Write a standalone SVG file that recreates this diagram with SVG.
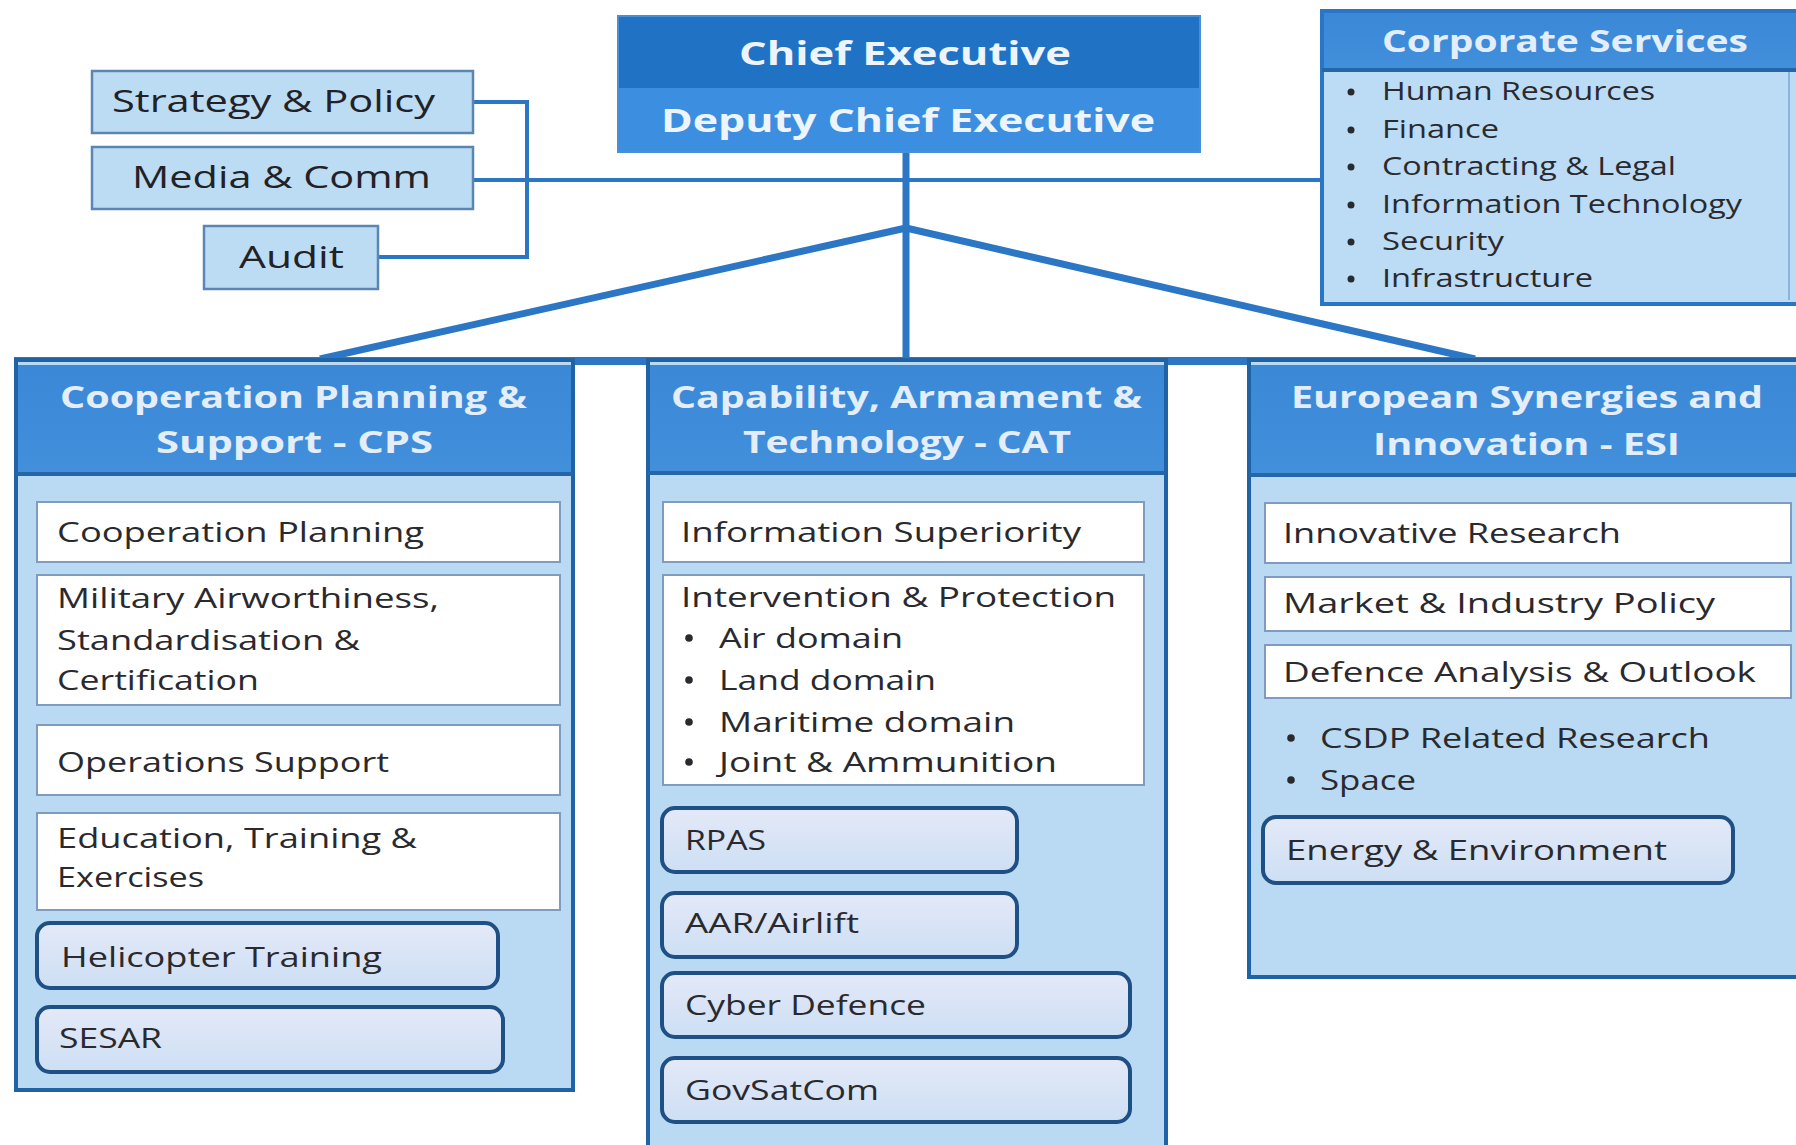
<svg xmlns="http://www.w3.org/2000/svg" width="1796" height="1145" viewBox="0 0 1796 1145">
<defs>
<linearGradient id="rg" x1="0" y1="0" x2="0" y2="1">
<stop offset="0" stop-color="#e4e9f8"/>
<stop offset="1" stop-color="#cddff4"/>
</linearGradient>
<linearGradient id="hg" x1="0" y1="0" x2="0" y2="1">
<stop offset="0" stop-color="#3a88d6"/>
<stop offset="1" stop-color="#4290dc"/>
</linearGradient>
</defs>
<style>
text{font-family:"Open Sans","Liberation Sans",sans-serif;}
.t{font-size:28px;fill:#2a2a2e;}
.tl{font-size:25px;fill:#2a2a2e;}
.ts{font-size:31px;fill:#222226;}
.h{font-size:31px;font-weight:bold;fill:#e4eefa;}
.hc{font-size:33px;font-weight:bold;fill:#eef4fc;}
.small{fill:#bcdcf4;stroke:#5b86b1;stroke-width:2.5;}
.col{fill:#badaf3;stroke:#1f62a6;stroke-width:4;}
.hdr{fill:url(#hg);}
.div{stroke:#2566a8;stroke-width:4;}
.item{fill:#ffffff;stroke:#7f9cc0;stroke-width:2;}
.rbox{fill:url(#rg);stroke:#1e4f85;stroke-width:4;}
.ln{stroke:#2b76c5;fill:none;}
.bul{fill:#2a2a2e;}
</style>

<g id="connectors">
<line class="ln" x1="906" y1="152" x2="906" y2="360" stroke-width="7"/>
<line class="ln" x1="473" y1="180" x2="1322" y2="180" stroke-width="4"/>
<polyline class="ln" points="473,102 527,102 527,257 378,257" stroke-width="4"/>
<polyline class="ln" points="320,359 906,228 1475,359" stroke-width="7" stroke-linejoin="round"/>
<line class="ln" x1="14" y1="361" x2="1796" y2="361" stroke-width="8"/>
</g>

<g id="strategy-policy">
<rect class="small" x="92" y="71" width="381" height="62"/>
<text class="ts" x="112" y="112" textLength="323" lengthAdjust="spacingAndGlyphs">Strategy &amp; Policy</text>
</g>
<g id="media-comm">
<rect class="small" x="92" y="147" width="381" height="62"/>
<text class="ts" x="132" y="188" textLength="299" lengthAdjust="spacingAndGlyphs">Media &amp; Comm</text>
</g>
<g id="audit">
<rect class="small" x="204" y="226" width="174" height="63"/>
<text class="ts" x="239" y="268" textLength="105" lengthAdjust="spacingAndGlyphs">Audit</text>
</g>

<g id="chief-executive">
<rect x="618" y="16" width="582" height="72" fill="#1f72c4"/>
<rect x="618" y="88" width="582" height="64" fill="#3c8fe0"/>
<rect x="618" y="16" width="582" height="136" fill="none" stroke="#4a8fd6" stroke-width="2"/>
<text class="hc" x="739" y="65" textLength="332" lengthAdjust="spacingAndGlyphs">Chief Executive</text>
<text class="hc" x="661" y="132" font-size="34" textLength="494" lengthAdjust="spacingAndGlyphs">Deputy Chief Executive</text>
</g>

<g id="corporate-services">
<rect x="1322" y="11" width="490" height="293" fill="#bcdcf5" stroke="#2a76c6" stroke-width="4"/>
<rect x="1324" y="13" width="486" height="57" class="hdr"/>
<line class="div" x1="1322" y1="70" x2="1812" y2="70"/>
<line x1="1789" y1="72" x2="1789" y2="300" stroke="#8ab4dc" stroke-width="2"/>
<text class="h" x="1382" y="52" textLength="366" lengthAdjust="spacingAndGlyphs">Corporate Services</text>
<circle class="bul" cx="1351" cy="92" r="3.5"/>
<circle class="bul" cx="1351" cy="130" r="3.5"/>
<circle class="bul" cx="1351" cy="167" r="3.5"/>
<circle class="bul" cx="1351" cy="205" r="3.5"/>
<circle class="bul" cx="1351" cy="242" r="3.5"/>
<circle class="bul" cx="1351" cy="279" r="3.5"/>
<text class="tl" x="1382" y="100" textLength="273" lengthAdjust="spacingAndGlyphs">Human Resources</text>
<text class="tl" x="1382" y="138" textLength="117" lengthAdjust="spacingAndGlyphs">Finance</text>
<text class="tl" x="1382" y="175" textLength="294" lengthAdjust="spacingAndGlyphs">Contracting &amp; Legal</text>
<text class="tl" x="1382" y="213" textLength="360" lengthAdjust="spacingAndGlyphs">Information Technology</text>
<text class="tl" x="1382" y="250" textLength="122" lengthAdjust="spacingAndGlyphs">Security</text>
<text class="tl" x="1382" y="287" textLength="211" lengthAdjust="spacingAndGlyphs">Infrastructure</text>
</g>

<g id="cps">
<rect class="col" x="16" y="360" width="557" height="730"/>
<rect class="hdr" x="18" y="365" width="553" height="109"/>
<line class="div" x1="16" y1="474" x2="573" y2="474"/>
<text class="h" x="60" y="408" textLength="467" lengthAdjust="spacingAndGlyphs">Cooperation Planning &amp;</text>
<text class="h" x="156" y="453" textLength="277" lengthAdjust="spacingAndGlyphs">Support  - CPS</text>
<g id="cps-cooperation-planning">
<rect class="item" x="37" y="502" width="523" height="60"/>
<text class="t" x="57" y="542" textLength="367" lengthAdjust="spacingAndGlyphs">Cooperation Planning</text>
</g>
<g id="cps-military-airworthiness">
<rect class="item" x="37" y="575" width="523" height="130"/>
<text class="t" x="57" y="608" textLength="382" lengthAdjust="spacingAndGlyphs">Military Airworthiness,</text>
<text class="t" x="57" y="650" textLength="303" lengthAdjust="spacingAndGlyphs">Standardisation &amp;</text>
<text class="t" x="57" y="690" textLength="202" lengthAdjust="spacingAndGlyphs">Certification</text>
</g>
<g id="cps-operations-support">
<rect class="item" x="37" y="725" width="523" height="70"/>
<text class="t" x="57" y="772" textLength="332" lengthAdjust="spacingAndGlyphs">Operations Support</text>
</g>
<g id="cps-education">
<rect class="item" x="37" y="813" width="523" height="97"/>
<text class="t" x="57" y="848" textLength="360" lengthAdjust="spacingAndGlyphs">Education, Training &amp;</text>
<text class="t" x="57" y="887" textLength="147" lengthAdjust="spacingAndGlyphs">Exercises</text>
</g>
<g id="cps-helicopter-training">
<rect class="rbox" x="37" y="923" width="461" height="65" rx="13"/>
<text class="t" x="61" y="967" textLength="321" lengthAdjust="spacingAndGlyphs">Helicopter Training</text>
</g>
<g id="cps-sesar">
<rect class="rbox" x="37" y="1007" width="466" height="65" rx="13"/>
<text class="t" x="59" y="1048" textLength="103" lengthAdjust="spacingAndGlyphs">SESAR</text>
</g>
</g>

<g id="cat">
<rect class="col" x="648" y="360" width="518" height="800"/>
<rect class="hdr" x="650" y="365" width="514" height="108"/>
<line class="div" x1="648" y1="473" x2="1166" y2="473"/>
<text class="h" x="671" y="408" textLength="471" lengthAdjust="spacingAndGlyphs">Capability, Armament &amp;</text>
<text class="h" x="743" y="453" textLength="328" lengthAdjust="spacingAndGlyphs">Technology - CAT</text>
<g id="cat-information-superiority">
<rect class="item" x="663" y="502" width="481" height="60"/>
<text class="t" x="681" y="542" textLength="400" lengthAdjust="spacingAndGlyphs">Information Superiority</text>
</g>
<g id="cat-intervention-protection">
<rect class="item" x="663" y="575" width="481" height="210"/>
<text class="t" x="681" y="607" textLength="435" lengthAdjust="spacingAndGlyphs">Intervention  &amp; Protection</text>
<circle class="bul" cx="689" cy="638" r="3.8"/>
<circle class="bul" cx="689" cy="680" r="3.8"/>
<circle class="bul" cx="689" cy="722" r="3.8"/>
<circle class="bul" cx="689" cy="762" r="3.8"/>
<text class="t" x="719" y="648" textLength="184" lengthAdjust="spacingAndGlyphs">Air domain</text>
<text class="t" x="719" y="690" textLength="217" lengthAdjust="spacingAndGlyphs">Land domain</text>
<text class="t" x="719" y="732" textLength="296" lengthAdjust="spacingAndGlyphs">Maritime domain</text>
<text class="t" x="719" y="772" textLength="338" lengthAdjust="spacingAndGlyphs">Joint &amp; Ammunition</text>
</g>
<g id="cat-rpas">
<rect class="rbox" x="662" y="808" width="355" height="64" rx="13"/>
<text class="t" x="685" y="850" textLength="81" lengthAdjust="spacingAndGlyphs">RPAS</text>
</g>
<g id="cat-aar-airlift">
<rect class="rbox" x="662" y="893" width="355" height="64" rx="13"/>
<text class="t" x="685" y="933" textLength="174" lengthAdjust="spacingAndGlyphs">AAR/Airlift</text>
</g>
<g id="cat-cyber-defence">
<rect class="rbox" x="662" y="973" width="468" height="64" rx="13"/>
<text class="t" x="685" y="1015" textLength="241" lengthAdjust="spacingAndGlyphs">Cyber Defence</text>
</g>
<g id="cat-govsatcom">
<rect class="rbox" x="662" y="1058" width="468" height="64" rx="13"/>
<text class="t" x="685" y="1100" textLength="194" lengthAdjust="spacingAndGlyphs">GovSatCom</text>
</g>
</g>

<g id="esi">
<rect class="col" x="1249" y="360" width="562" height="617"/>
<rect class="hdr" x="1251" y="365" width="558" height="110"/>
<line class="div" x1="1249" y1="475" x2="1811" y2="475"/>
<text class="h" x="1291" y="408" textLength="472" lengthAdjust="spacingAndGlyphs">European Synergies and</text>
<text class="h" x="1373" y="455" textLength="307" lengthAdjust="spacingAndGlyphs">Innovation - ESI</text>
<g id="esi-innovative-research">
<rect class="item" x="1265" y="503" width="526" height="60"/>
<text class="t" x="1283" y="543" textLength="338" lengthAdjust="spacingAndGlyphs">Innovative Research</text>
</g>
<g id="esi-market-industry">
<rect class="item" x="1265" y="577" width="526" height="54"/>
<text class="t" x="1283" y="613" textLength="432" lengthAdjust="spacingAndGlyphs">Market  &amp; Industry Policy</text>
</g>
<g id="esi-defence-analysis">
<rect class="item" x="1265" y="645" width="526" height="53"/>
<text class="t" x="1283" y="682" textLength="473" lengthAdjust="spacingAndGlyphs">Defence Analysis &amp; Outlook</text>
<circle class="bul" cx="1291" cy="738" r="3.8"/>
<circle class="bul" cx="1291" cy="780" r="3.8"/>
<text class="t" x="1320" y="748" textLength="390" lengthAdjust="spacingAndGlyphs">CSDP Related Research</text>
<text class="t" x="1320" y="790" textLength="96" lengthAdjust="spacingAndGlyphs">Space</text>
</g>
<g id="esi-energy-environment">
<rect class="rbox" x="1263" y="817" width="470" height="66" rx="13"/>
<text class="t" x="1286" y="860" textLength="381" lengthAdjust="spacingAndGlyphs">Energy &amp; Environment</text>
</g>
</g>
</svg>
